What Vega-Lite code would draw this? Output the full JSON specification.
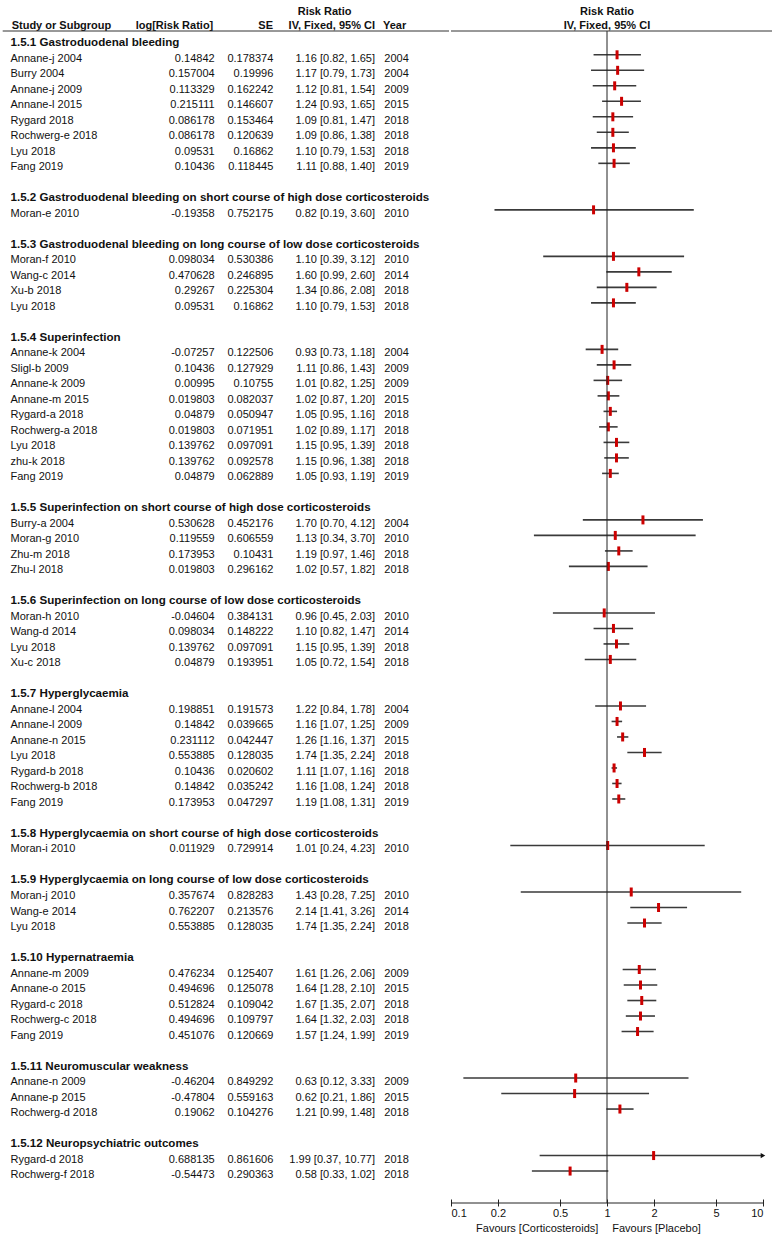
{
  "$schema": "https://vega.github.io/schema/vega-lite/v6.json",
  "padding": 0,
  "spacing": 0,
  "background": "white",
  "config": {
    "view": {"stroke": null},
    "font": "Liberation Sans",
    "text": {"font": "Liberation Sans", "fontSize": 11, "color": "#111111"},
    "axis": {"labelFont": "Liberation Sans"}
  },
  "datasets": {
    "rows": [
      {"sub": "1.5.1", "title": "1.5.1 Gastroduodenal bleeding"},
      {"sub": "1.5.1", "study": "Annane-j 2004", "lrr": 0.14842, "se": 0.178374, "rr": 1.16, "lo": 0.82, "hi": 1.65, "year": 2004},
      {"sub": "1.5.1", "study": "Burry 2004", "lrr": 0.157004, "se": 0.19996, "rr": 1.17, "lo": 0.79, "hi": 1.73, "year": 2004},
      {"sub": "1.5.1", "study": "Annane-j 2009", "lrr": 0.113329, "se": 0.162242, "rr": 1.12, "lo": 0.81, "hi": 1.54, "year": 2009},
      {"sub": "1.5.1", "study": "Annane-l 2015", "lrr": 0.215111, "se": 0.146607, "rr": 1.24, "lo": 0.93, "hi": 1.65, "year": 2015},
      {"sub": "1.5.1", "study": "Rygard 2018", "lrr": 0.086178, "se": 0.153464, "rr": 1.09, "lo": 0.81, "hi": 1.47, "year": 2018},
      {"sub": "1.5.1", "study": "Rochwerg-e 2018", "lrr": 0.086178, "se": 0.120639, "rr": 1.09, "lo": 0.86, "hi": 1.38, "year": 2018},
      {"sub": "1.5.1", "study": "Lyu 2018", "lrr": 0.09531, "se": 0.16862, "rr": 1.10, "lo": 0.79, "hi": 1.53, "year": 2018},
      {"sub": "1.5.1", "study": "Fang 2019", "lrr": 0.10436, "se": 0.118445, "rr": 1.11, "lo": 0.88, "hi": 1.40, "year": 2019},
      {"sub": "1.5.2", "title": "1.5.2 Gastroduodenal bleeding on short course of high dose corticosteroids"},
      {"sub": "1.5.2", "study": "Moran-e 2010", "lrr": -0.19358, "se": 0.752175, "rr": 0.82, "lo": 0.19, "hi": 3.60, "year": 2010},
      {"sub": "1.5.3", "title": "1.5.3 Gastroduodenal bleeding on long course of low dose corticosteroids"},
      {"sub": "1.5.3", "study": "Moran-f 2010", "lrr": 0.098034, "se": 0.530386, "rr": 1.10, "lo": 0.39, "hi": 3.12, "year": 2010},
      {"sub": "1.5.3", "study": "Wang-c 2014", "lrr": 0.470628, "se": 0.246895, "rr": 1.60, "lo": 0.99, "hi": 2.60, "year": 2014},
      {"sub": "1.5.3", "study": "Xu-b 2018", "lrr": 0.29267, "se": 0.225304, "rr": 1.34, "lo": 0.86, "hi": 2.08, "year": 2018},
      {"sub": "1.5.3", "study": "Lyu 2018", "lrr": 0.09531, "se": 0.16862, "rr": 1.10, "lo": 0.79, "hi": 1.53, "year": 2018},
      {"sub": "1.5.4", "title": "1.5.4 Superinfection"},
      {"sub": "1.5.4", "study": "Annane-k 2004", "lrr": -0.07257, "se": 0.122506, "rr": 0.93, "lo": 0.73, "hi": 1.18, "year": 2004},
      {"sub": "1.5.4", "study": "Sligl-b 2009", "lrr": 0.10436, "se": 0.127929, "rr": 1.11, "lo": 0.86, "hi": 1.43, "year": 2009},
      {"sub": "1.5.4", "study": "Annane-k 2009", "lrr": 0.00995, "se": 0.10755, "rr": 1.01, "lo": 0.82, "hi": 1.25, "year": 2009},
      {"sub": "1.5.4", "study": "Annane-m 2015", "lrr": 0.019803, "se": 0.082037, "rr": 1.02, "lo": 0.87, "hi": 1.20, "year": 2015},
      {"sub": "1.5.4", "study": "Rygard-a 2018", "lrr": 0.04879, "se": 0.050947, "rr": 1.05, "lo": 0.95, "hi": 1.16, "year": 2018},
      {"sub": "1.5.4", "study": "Rochwerg-a 2018", "lrr": 0.019803, "se": 0.071951, "rr": 1.02, "lo": 0.89, "hi": 1.17, "year": 2018},
      {"sub": "1.5.4", "study": "Lyu 2018", "lrr": 0.139762, "se": 0.097091, "rr": 1.15, "lo": 0.95, "hi": 1.39, "year": 2018},
      {"sub": "1.5.4", "study": "zhu-k 2018", "lrr": 0.139762, "se": 0.092578, "rr": 1.15, "lo": 0.96, "hi": 1.38, "year": 2018},
      {"sub": "1.5.4", "study": "Fang 2019", "lrr": 0.04879, "se": 0.062889, "rr": 1.05, "lo": 0.93, "hi": 1.19, "year": 2019},
      {"sub": "1.5.5", "title": "1.5.5 Superinfection on short course of high dose corticosteroids"},
      {"sub": "1.5.5", "study": "Burry-a 2004", "lrr": 0.530628, "se": 0.452176, "rr": 1.70, "lo": 0.70, "hi": 4.12, "year": 2004},
      {"sub": "1.5.5", "study": "Moran-g 2010", "lrr": 0.119559, "se": 0.606559, "rr": 1.13, "lo": 0.34, "hi": 3.70, "year": 2010},
      {"sub": "1.5.5", "study": "Zhu-m 2018", "lrr": 0.173953, "se": 0.10431, "rr": 1.19, "lo": 0.97, "hi": 1.46, "year": 2018},
      {"sub": "1.5.5", "study": "Zhu-l 2018", "lrr": 0.019803, "se": 0.296162, "rr": 1.02, "lo": 0.57, "hi": 1.82, "year": 2018},
      {"sub": "1.5.6", "title": "1.5.6 Superinfection on long course of low dose corticosteroids"},
      {"sub": "1.5.6", "study": "Moran-h 2010", "lrr": -0.04604, "se": 0.384131, "rr": 0.96, "lo": 0.45, "hi": 2.03, "year": 2010},
      {"sub": "1.5.6", "study": "Wang-d 2014", "lrr": 0.098034, "se": 0.148222, "rr": 1.10, "lo": 0.82, "hi": 1.47, "year": 2014},
      {"sub": "1.5.6", "study": "Lyu 2018", "lrr": 0.139762, "se": 0.097091, "rr": 1.15, "lo": 0.95, "hi": 1.39, "year": 2018},
      {"sub": "1.5.6", "study": "Xu-c 2018", "lrr": 0.04879, "se": 0.193951, "rr": 1.05, "lo": 0.72, "hi": 1.54, "year": 2018},
      {"sub": "1.5.7", "title": "1.5.7 Hyperglycaemia"},
      {"sub": "1.5.7", "study": "Annane-l 2004", "lrr": 0.198851, "se": 0.191573, "rr": 1.22, "lo": 0.84, "hi": 1.78, "year": 2004},
      {"sub": "1.5.7", "study": "Annane-l 2009", "lrr": 0.14842, "se": 0.039665, "rr": 1.16, "lo": 1.07, "hi": 1.25, "year": 2009},
      {"sub": "1.5.7", "study": "Annane-n 2015", "lrr": 0.231112, "se": 0.042447, "rr": 1.26, "lo": 1.16, "hi": 1.37, "year": 2015},
      {"sub": "1.5.7", "study": "Lyu 2018", "lrr": 0.553885, "se": 0.128035, "rr": 1.74, "lo": 1.35, "hi": 2.24, "year": 2018},
      {"sub": "1.5.7", "study": "Rygard-b 2018", "lrr": 0.10436, "se": 0.020602, "rr": 1.11, "lo": 1.07, "hi": 1.16, "year": 2018},
      {"sub": "1.5.7", "study": "Rochwerg-b 2018", "lrr": 0.14842, "se": 0.035242, "rr": 1.16, "lo": 1.08, "hi": 1.24, "year": 2018},
      {"sub": "1.5.7", "study": "Fang 2019", "lrr": 0.173953, "se": 0.047297, "rr": 1.19, "lo": 1.08, "hi": 1.31, "year": 2019},
      {"sub": "1.5.8", "title": "1.5.8 Hyperglycaemia on short course of high dose corticosteroids"},
      {"sub": "1.5.8", "study": "Moran-i 2010", "lrr": 0.011929, "se": 0.729914, "rr": 1.01, "lo": 0.24, "hi": 4.23, "year": 2010},
      {"sub": "1.5.9", "title": "1.5.9 Hyperglycaemia on long course of low dose corticosteroids"},
      {"sub": "1.5.9", "study": "Moran-j 2010", "lrr": 0.357674, "se": 0.828283, "rr": 1.43, "lo": 0.28, "hi": 7.25, "year": 2010},
      {"sub": "1.5.9", "study": "Wang-e 2014", "lrr": 0.762207, "se": 0.213576, "rr": 2.14, "lo": 1.41, "hi": 3.26, "year": 2014},
      {"sub": "1.5.9", "study": "Lyu 2018", "lrr": 0.553885, "se": 0.128035, "rr": 1.74, "lo": 1.35, "hi": 2.24, "year": 2018},
      {"sub": "1.5.10", "title": "1.5.10 Hypernatraemia"},
      {"sub": "1.5.10", "study": "Annane-m 2009", "lrr": 0.476234, "se": 0.125407, "rr": 1.61, "lo": 1.26, "hi": 2.06, "year": 2009},
      {"sub": "1.5.10", "study": "Annane-o 2015", "lrr": 0.494696, "se": 0.125078, "rr": 1.64, "lo": 1.28, "hi": 2.10, "year": 2015},
      {"sub": "1.5.10", "study": "Rygard-c 2018", "lrr": 0.512824, "se": 0.109042, "rr": 1.67, "lo": 1.35, "hi": 2.07, "year": 2018},
      {"sub": "1.5.10", "study": "Rochwerg-c 2018", "lrr": 0.494696, "se": 0.109797, "rr": 1.64, "lo": 1.32, "hi": 2.03, "year": 2018},
      {"sub": "1.5.10", "study": "Fang 2019", "lrr": 0.451076, "se": 0.120669, "rr": 1.57, "lo": 1.24, "hi": 1.99, "year": 2019},
      {"sub": "1.5.11", "title": "1.5.11 Neuromuscular weakness"},
      {"sub": "1.5.11", "study": "Annane-n 2009", "lrr": -0.46204, "se": 0.849292, "rr": 0.63, "lo": 0.12, "hi": 3.33, "year": 2009},
      {"sub": "1.5.11", "study": "Annane-p 2015", "lrr": -0.47804, "se": 0.559163, "rr": 0.62, "lo": 0.21, "hi": 1.86, "year": 2015},
      {"sub": "1.5.11", "study": "Rochwerg-d 2018", "lrr": 0.19062, "se": 0.104276, "rr": 1.21, "lo": 0.99, "hi": 1.48, "year": 2018},
      {"sub": "1.5.12", "title": "1.5.12 Neuropsychiatric outcomes"},
      {"sub": "1.5.12", "study": "Rygard-d 2018", "lrr": 0.688135, "se": 0.861606, "rr": 1.99, "lo": 0.37, "hi": 10.77, "year": 2018},
      {"sub": "1.5.12", "study": "Rochwerg-f 2018", "lrr": -0.54473, "se": 0.290363, "rr": 0.58, "lo": 0.33, "hi": 1.02, "year": 2018}
    ]
  },
  "hconcat": [
    {
      "width": 449,
      "height": 1203,
      "layer": [
        {
          "data": {"name": "rows"},
          "transform": [
            {"window": [{"op": "row_number", "as": "rn"}]},
            {"joinaggregate": [{"op": "min", "field": "rn", "as": "gs"}], "groupby": ["sub"]},
            {"window": [{"op": "dense_rank", "as": "gi"}], "sort": [{"field": "gs", "order": "ascending"}]},
            {"calculate": "datum.rn + datum.gi - 2", "as": "row"},
            {"calculate": "isValid(datum.rr) ? format(datum.rr, '.2f') + ' [' + format(datum.lo, '.2f') + ', ' + format(datum.hi, '.2f') + ']' : ''", "as": "ci"}
          ],
          "layer": [
            {
              "transform": [{"filter": "isValid(datum.title)"}],
              "mark": {"type": "text", "align": "left", "fontWeight": "bold", "fontSize": 11.6, "dy": 4},
              "encoding": {
                "x": {"datum": 2.34, "type": "quantitative", "scale": {"domain": [0, 100], "nice": false}, "axis": null},
                "y": {"field": "row", "type": "quantitative", "scale": {"domain": [-2.535, 75.06], "reverse": true, "nice": false, "zero": false}, "axis": null},
                "text": {"field": "title", "type": "nominal"}
              }
            },
            {
              "transform": [{"filter": "isValid(datum.study)"}],
              "mark": {"type": "text", "align": "left", "dy": 4},
              "encoding": {
                "x": {"datum": 2.34, "type": "quantitative", "scale": {"domain": [0, 100], "nice": false}, "axis": null},
                "y": {"field": "row", "type": "quantitative", "scale": {"domain": [-2.535, 75.06], "reverse": true, "nice": false, "zero": false}, "axis": null},
                "text": {"field": "study", "type": "nominal"}
              }
            },
            {
              "transform": [{"filter": "isValid(datum.study)"}],
              "mark": {"type": "text", "align": "right", "dy": 4},
              "encoding": {
                "x": {"datum": 47.8, "type": "quantitative", "scale": {"domain": [0, 100], "nice": false}, "axis": null},
                "y": {"field": "row", "type": "quantitative", "scale": {"domain": [-2.535, 75.06], "reverse": true, "nice": false, "zero": false}, "axis": null},
                "text": {"field": "lrr", "type": "nominal"}
              }
            },
            {
              "transform": [{"filter": "isValid(datum.study)"}],
              "mark": {"type": "text", "align": "right", "dy": 4},
              "encoding": {
                "x": {"datum": 60.87, "type": "quantitative", "scale": {"domain": [0, 100], "nice": false}, "axis": null},
                "y": {"field": "row", "type": "quantitative", "scale": {"domain": [-2.535, 75.06], "reverse": true, "nice": false, "zero": false}, "axis": null},
                "text": {"field": "se", "type": "nominal"}
              }
            },
            {
              "transform": [{"filter": "isValid(datum.study)"}],
              "mark": {"type": "text", "align": "right", "dy": 4},
              "encoding": {
                "x": {"datum": 83.52, "type": "quantitative", "scale": {"domain": [0, 100], "nice": false}, "axis": null},
                "y": {"field": "row", "type": "quantitative", "scale": {"domain": [-2.535, 75.06], "reverse": true, "nice": false, "zero": false}, "axis": null},
                "text": {"field": "ci", "type": "nominal"}
              }
            },
            {
              "transform": [{"filter": "isValid(datum.study)"}],
              "mark": {"type": "text", "align": "left", "dy": 4},
              "encoding": {
                "x": {"datum": 85.6, "type": "quantitative", "scale": {"domain": [0, 100], "nice": false}, "axis": null},
                "y": {"field": "row", "type": "quantitative", "scale": {"domain": [-2.535, 75.06], "reverse": true, "nice": false, "zero": false}, "axis": null},
                "text": {"field": "year", "type": "nominal"}
              }
            }
          ]
        },
        {
          "data": {"values": [{}]},
          "mark": {"type": "text", "align": "left", "fontWeight": "bold", "text": "Study or Subgroup"},
          "encoding": {
            "x": {"datum": 2.6, "type": "quantitative", "scale": {"domain": [0, 100], "nice": false}, "axis": null},
            "y": {"datum": -0.877, "type": "quantitative", "scale": {"domain": [-2.535, 75.06], "reverse": true, "nice": false, "zero": false}, "axis": null}
          }
        },
        {
          "data": {"values": [{}]},
          "mark": {"type": "text", "align": "right", "fontWeight": "bold", "text": "log[Risk Ratio]"},
          "encoding": {
            "x": {"datum": 47.5, "type": "quantitative", "scale": {"domain": [0, 100], "nice": false}, "axis": null},
            "y": {"datum": -0.877, "type": "quantitative", "scale": {"domain": [-2.535, 75.06], "reverse": true, "nice": false, "zero": false}, "axis": null}
          }
        },
        {
          "data": {"values": [{}]},
          "mark": {"type": "text", "align": "right", "fontWeight": "bold", "text": "SE"},
          "encoding": {
            "x": {"datum": 60.8, "type": "quantitative", "scale": {"domain": [0, 100], "nice": false}, "axis": null},
            "y": {"datum": -0.877, "type": "quantitative", "scale": {"domain": [-2.535, 75.06], "reverse": true, "nice": false, "zero": false}, "axis": null}
          }
        },
        {
          "data": {"values": [{}]},
          "mark": {"type": "text", "align": "right", "fontWeight": "bold", "text": "IV, Fixed, 95% CI"},
          "encoding": {
            "x": {"datum": 83.52, "type": "quantitative", "scale": {"domain": [0, 100], "nice": false}, "axis": null},
            "y": {"datum": -0.877, "type": "quantitative", "scale": {"domain": [-2.535, 75.06], "reverse": true, "nice": false, "zero": false}, "axis": null}
          }
        },
        {
          "data": {"values": [{}]},
          "mark": {"type": "text", "align": "left", "fontWeight": "bold", "text": "Year"},
          "encoding": {
            "x": {"datum": 85.3, "type": "quantitative", "scale": {"domain": [0, 100], "nice": false}, "axis": null},
            "y": {"datum": -0.877, "type": "quantitative", "scale": {"domain": [-2.535, 75.06], "reverse": true, "nice": false, "zero": false}, "axis": null}
          }
        },
        {
          "data": {"values": [{}]},
          "mark": {"type": "text", "align": "center", "fontWeight": "bold", "text": "Risk Ratio"},
          "encoding": {
            "x": {"datum": 72.3, "type": "quantitative", "scale": {"domain": [0, 100], "nice": false}, "axis": null},
            "y": {"datum": -1.78, "type": "quantitative", "scale": {"domain": [-2.535, 75.06], "reverse": true, "nice": false, "zero": false}, "axis": null}
          }
        },
        {
          "data": {"values": [{}]},
          "mark": {"type": "rule", "color": "#333333", "strokeWidth": 1},
          "encoding": {
            "x": {"datum": 0.6, "type": "quantitative", "scale": {"domain": [0, 100], "nice": false}, "axis": null},
            "x2": {"datum": 100},
            "y": {"datum": -0.535, "type": "quantitative", "scale": {"domain": [-2.535, 75.06], "reverse": true, "nice": false, "zero": false}, "axis": null}
          }
        }
      ]
    },
    {
      "width": 312,
      "height": 1203,
      "layer": [
        {
          "data": {"name": "rows"},
          "transform": [
            {"window": [{"op": "row_number", "as": "rn"}]},
            {"joinaggregate": [{"op": "min", "field": "rn", "as": "gs"}], "groupby": ["sub"]},
            {"window": [{"op": "dense_rank", "as": "gi"}], "sort": [{"field": "gs", "order": "ascending"}]},
            {"calculate": "datum.rn + datum.gi - 2", "as": "row"},
            {"filter": "isValid(datum.study)"}
          ],
          "layer": [
            {
              "mark": {"type": "rule", "color": "#3a3a3a", "strokeWidth": 1.6},
              "encoding": {
                "x": {
                  "field": "lo", "type": "quantitative",
                  "scale": {"type": "log", "domain": [0.1, 10], "clamp": true, "nice": false},
                  "axis": {
                    "values": [0.1, 0.2, 0.5, 1, 2, 5, 10],
                    "format": "~g",
                    "title": null,
                    "grid": false,
                    "domain": false,
                    "offset": -4,
                    "tickSize": 7,
                    "tickColor": "#222222",
                    "tickWidth": 1,
                    "labelPadding": 1,
                    "labelFontSize": 11,
                    "labelColor": "#111111",
                    "labelFlush": true
                  }
                },
                "x2": {"field": "hi"},
                "y": {"field": "row", "type": "quantitative", "scale": {"domain": [-2.535, 75.06], "reverse": true, "nice": false, "zero": false}, "axis": null}
              }
            },
            {
              "mark": {"type": "tick", "orient": "vertical", "color": "#cc0000", "thickness": 3, "size": 9, "opacity": 1},
              "encoding": {
                "x": {"field": "rr", "type": "quantitative", "scale": {"type": "log", "domain": [0.1, 10], "clamp": true, "nice": false}},
                "y": {"field": "row", "type": "quantitative", "scale": {"domain": [-2.535, 75.06], "reverse": true, "nice": false, "zero": false}, "axis": null}
              }
            },
            {
              "transform": [{"filter": "datum.hi > 10"}],
              "mark": {"type": "point", "shape": "triangle-right", "filled": true, "color": "#111111", "size": 28, "opacity": 1},
              "encoding": {
                "x": {"field": "hi", "type": "quantitative", "scale": {"type": "log", "domain": [0.1, 10], "clamp": true, "nice": false}},
                "y": {"field": "row", "type": "quantitative", "scale": {"domain": [-2.535, 75.06], "reverse": true, "nice": false, "zero": false}, "axis": null}
              }
            }
          ]
        },
        {
          "data": {"values": [{}]},
          "mark": {"type": "rule", "color": "#222222", "strokeWidth": 1},
          "encoding": {
            "x": {"datum": 1, "type": "quantitative", "scale": {"type": "log", "domain": [0.1, 10], "clamp": true, "nice": false}},
            "y": {"datum": -0.535, "type": "quantitative", "scale": {"domain": [-2.535, 75.06], "reverse": true, "nice": false, "zero": false}, "axis": null},
            "y2": {"datum": 75.06}
          }
        },
        {
          "data": {"values": [{}]},
          "mark": {"type": "rule", "color": "#333333", "strokeWidth": 1, "x2Offset": 11},
          "encoding": {
            "x": {"datum": 0.1, "type": "quantitative", "scale": {"type": "log", "domain": [0.1, 10], "clamp": true, "nice": false}},
            "x2": {"datum": 10},
            "y": {"datum": -0.535, "type": "quantitative", "scale": {"domain": [-2.535, 75.06], "reverse": true, "nice": false, "zero": false}, "axis": null}
          }
        },
        {
          "data": {"values": [{}]},
          "mark": {"type": "rule", "color": "#222222", "strokeWidth": 1},
          "encoding": {
            "x": {"datum": 0.1, "type": "quantitative", "scale": {"type": "log", "domain": [0.1, 10], "clamp": true, "nice": false}},
            "x2": {"datum": 10},
            "y": {"datum": 75.06, "type": "quantitative", "scale": {"domain": [-2.535, 75.06], "reverse": true, "nice": false, "zero": false}, "axis": null}
          }
        },
        {
          "data": {"values": [{}]},
          "mark": {"type": "text", "align": "center", "fontWeight": "bold", "text": "Risk Ratio"},
          "encoding": {
            "x": {"datum": 1, "type": "quantitative", "scale": {"type": "log", "domain": [0.1, 10], "clamp": true, "nice": false}},
            "y": {"datum": -1.78, "type": "quantitative", "scale": {"domain": [-2.535, 75.06], "reverse": true, "nice": false, "zero": false}, "axis": null}
          }
        },
        {
          "data": {"values": [{}]},
          "mark": {"type": "text", "align": "center", "fontWeight": "bold", "text": "IV, Fixed, 95% CI"},
          "encoding": {
            "x": {"datum": 1, "type": "quantitative", "scale": {"type": "log", "domain": [0.1, 10], "clamp": true, "nice": false}},
            "y": {"datum": -0.877, "type": "quantitative", "scale": {"domain": [-2.535, 75.06], "reverse": true, "nice": false, "zero": false}, "axis": null}
          }
        },
        {
          "data": {"values": [{}]},
          "mark": {"type": "text", "align": "right", "text": "Favours [Corticosteroids]"},
          "encoding": {
            "x": {"datum": 0.88, "type": "quantitative", "scale": {"type": "log", "domain": [0.1, 10], "clamp": true, "nice": false}},
            "y": {"datum": 76.74, "type": "quantitative", "scale": {"domain": [-2.535, 75.06], "reverse": true, "nice": false, "zero": false}, "axis": null}
          }
        },
        {
          "data": {"values": [{}]},
          "mark": {"type": "text", "align": "left", "text": "Favours [Placebo]"},
          "encoding": {
            "x": {"datum": 1.08, "type": "quantitative", "scale": {"type": "log", "domain": [0.1, 10], "clamp": true, "nice": false}},
            "y": {"datum": 76.74, "type": "quantitative", "scale": {"domain": [-2.535, 75.06], "reverse": true, "nice": false, "zero": false}, "axis": null}
          }
        }
      ]
    }
  ]
}
